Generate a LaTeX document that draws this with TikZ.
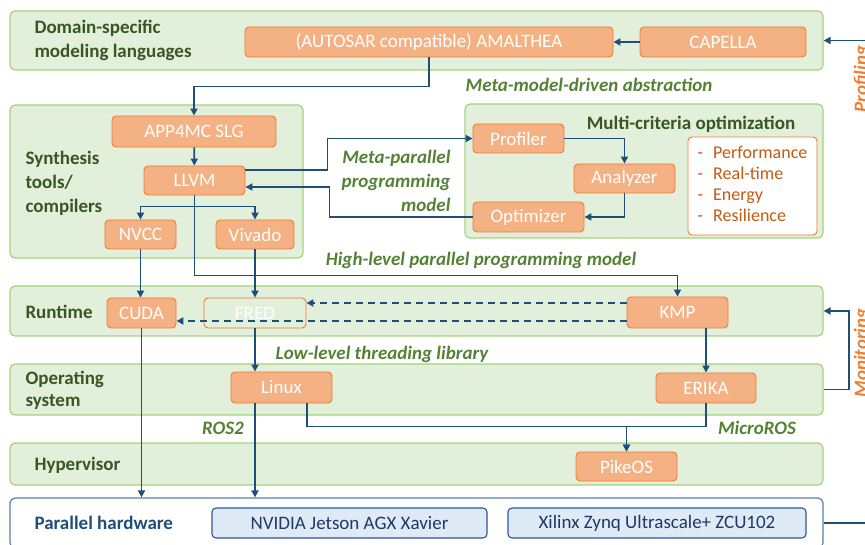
\documentclass[tikz,border=0pt]{standalone}
\usepackage{fontspec}
\setmainfont{Carlito}
\usepackage{tikz}
\usetikzlibrary{arrows.meta}

\definecolor{layerfill}{HTML}{E2EFDA}
\definecolor{layerline}{HTML}{A6D27C}
\definecolor{boxfill}{HTML}{F4B183}
\definecolor{boxline}{HTML}{ED7D31}
\definecolor{flowblue}{HTML}{1F4E79}
\definecolor{lblgreen}{HTML}{385723}
\definecolor{notegreen}{HTML}{548235}
\definecolor{listorange}{HTML}{C55A11}
\definecolor{sideorange}{HTML}{ED7D31}
\definecolor{hwline}{HTML}{2F5597}
\definecolor{hwfill}{HTML}{DEEBF7}
\definecolor{hwtext}{HTML}{203864}
\definecolor{hwlayer}{HTML}{5B7FA6}

\begin{document}
\begin{tikzpicture}[x=1pt,y=-1pt,
  layer/.style={draw=layerline,fill=layerfill,rounded corners=5pt,line width=1.2pt,inner sep=0pt},
  box/.style={draw=boxline,fill=boxfill,rounded corners=4pt,line width=0.9pt,inner sep=0pt,
    text=white,font=\fontsize{19}{21}\selectfont},
  hwbox/.style={draw=hwline,fill=hwfill,rounded corners=4pt,line width=1.1pt,inner sep=0pt,
    text=hwtext,font=\fontsize{19}{21}\selectfont},
  lbl/.style={anchor=west,align=left,text=lblgreen,font=\fontsize{19}{24}\selectfont\bfseries},
  note/.style={text=notegreen,font=\fontsize{19}{24}\selectfont\bfseries\itshape},
  flow/.style={draw=flowblue,line width=1.8pt,-{Triangle[length=7pt,width=7pt]}},
  side/.style={rotate=90,anchor=base,text=sideorange,font=\fontsize{19}{21}\selectfont\bfseries\itshape}]
\useasboundingbox (0,0) rectangle (865,545);

% layers
\node[layer,minimum width=813,minimum height=59] (dsl) at (416.5,40.5) {};
\node[layer,minimum width=293,minimum height=153] (synth) at (156.5,181.5) {};
\node[layer,minimum width=358,minimum height=134] (mco) at (644,171) {};
\node[layer,minimum width=813,minimum height=50] (runtime) at (416.5,311) {};
\node[layer,minimum width=813,minimum height=51] (os) at (416.5,389.5) {};
\node[layer,minimum width=813,minimum height=42] (hyp) at (416.5,464) {};
\node[layer,draw=hwlayer,fill=white,minimum width=813,minimum height=50] (hw) at (416.5,523) {};

\node[lbl] (dsllbl) at (31,40) {Domain-specific\\modeling languages};
\node[lbl] (synthlbl) at (22,183) {Synthesis\\tools/\\compilers};
\node[lbl] (mcolbl) at (691,124) [anchor=center] {Multi-criteria optimization};
\node[lbl] (runtimelbl) at (22,312) {Runtime};
\node[lbl,font=\fontsize{19}{22}\selectfont\bfseries] (oslbl) at (22,390) {Operating\\system};
\node[lbl] (hyplbl) at (31,465) {Hypervisor};
\node[lbl,text=flowblue] (hwlbl) at (31,523) {Parallel hardware};

% boxes
\node[box,minimum width=368,minimum height=30] (amalthea) at (429,42) {(AUTOSAR compatible) AMALTHEA};
\node[box,minimum width=166,minimum height=30] (capella) at (723,42) {CAPELLA};
\node[box,minimum width=164,minimum height=31] (app4mc) at (194,131.5) {APP4MC SLG};
\node[box,minimum width=101,minimum height=29] (llvm) at (194.5,180.5) {LLVM};
\node[box,minimum width=71,minimum height=29] (nvcc) at (140.5,234.5) {NVCC};
\node[box,minimum width=78,minimum height=29] (vivado) at (255,234.5) {Vivado};
\node[box,minimum width=91,minimum height=29] (profiler) at (518.5,138.5) {Profiler};
\node[box,minimum width=101,minimum height=29] (analyzer) at (624.5,178.5) {Analyzer};
\node[box,minimum width=111,minimum height=30] (optimizer) at (528.5,217) {Optimizer};
\node[box,fill=white,text=listorange,minimum width=129,minimum height=98,
  font=\fontsize{18}{21}\selectfont] (criteria) at (752.5,186)
  {\begin{tabular}{@{}l@{\hspace{10pt}}l@{}}
   - & Performance\\ - & Real-time\\ - & Energy\\ - & Resilience
   \end{tabular}};
\node[box,minimum width=69,minimum height=30] (cuda) at (141.5,313) {CUDA};
\node[box,fill=layerfill,minimum width=102,minimum height=30] (fred) at (255,313) {FRED};
\node[box,minimum width=101,minimum height=31] (kmp) at (677.5,312.5) {KMP};
\node[box,minimum width=101,minimum height=31] (linux) at (281.5,387.5) {Linux};
\node[box,minimum width=100,minimum height=30] (erika) at (706,388) {ERIKA};
\node[box,minimum width=101,minimum height=29] (pikeos) at (626.5,466.5) {PikeOS};
\node[hwbox,minimum width=275,minimum height=30] (nvidia) at (349.5,523) {NVIDIA Jetson AGX Xavier};
\node[hwbox,minimum width=298,minimum height=30] (xilinx) at (657,523) {Xilinx Zynq Ultrascale+ ZCU102};

% notes
\node[note] (metamodel) at (589,85) {Meta-model-driven abstraction};
\node[note,align=right,anchor=east] (metapar) at (454,181) {Meta-parallel\\programming\\model};
\node[note] (highlevel) at (481,260) {High-level parallel programming model};
\node[note] (lowlevel) at (382,354) {Low-level threading library};
\node[note] (ros) at (223,428) {ROS2};
\node[note] (microros) at (757,428) {MicroROS};
\node[side] (profiling) at (867,79) {Profiling};
\node[side] (monitoring) at (867,353) {Monitoring};

\coordinate (proftail) at (865,40.5);
\coordinate (hwtail) at (865,523);

% connectors
\draw[flow] (capella) -- (amalthea);
\draw[flow] (proftail) -- (dsl.east);
\draw[flow] (amalthea.south) -- ++(0,29) -| (app4mc.north);
\draw[flow] (app4mc) -- (llvm);
\draw[flow] (llvm.south) -- ++(0,11) -| (nvcc.north);
\draw[flow] (llvm.south) -- ++(0,11) -| (vivado.north);
\draw[flow] (llvm.south) -- ++(0,80) -| (kmp.north);
\draw[flow] ([yshift=10.5pt]llvm.east) -- ++(82,0) |- (profiler.west);
\draw[flow] (optimizer.west) -- ++(-143,0) |- ([yshift=-6.5pt]llvm.east);
\draw[flow] (profiler.east) -| (analyzer.north);
\draw[flow] (analyzer.south) |- (optimizer.east);
\draw[flow] (nvcc.south) -- (nvcc.south |- cuda.north);
\draw[flow] (vivado) -- (fred);
\draw[flow,dash pattern=on 7pt off 5pt] ([yshift=9.5pt]kmp.west) -- ([yshift=10pt]fred.east);
\draw[flow,dash pattern=on 7pt off 5pt] ([yshift=-8.5pt]kmp.west) -- ([yshift=-8pt]cuda.east);
\draw[flow] (fred.south) -- (fred.south |- linux.north);
\draw[flow] (erika.north |- kmp.south) -- (erika.north);
\draw[flow] (os.east) -- ++(25,0) |- (runtime.east);
\draw[flow] (cuda.south) -- (cuda.south |- hw.north);
\draw[flow] (fred.south |- linux.south) -- (fred.south |- hw.north);
\draw[flow] ([xshift=25.5pt]linux.south) -- ++(0,23) -| (pikeos.north);
\draw[flow] (erika.south) -- ++(0,23) -| (pikeos.north);
\draw[draw=flowblue,line width=1.8pt] (hw.east) -- (hwtail);

\end{tikzpicture}
\end{document}
